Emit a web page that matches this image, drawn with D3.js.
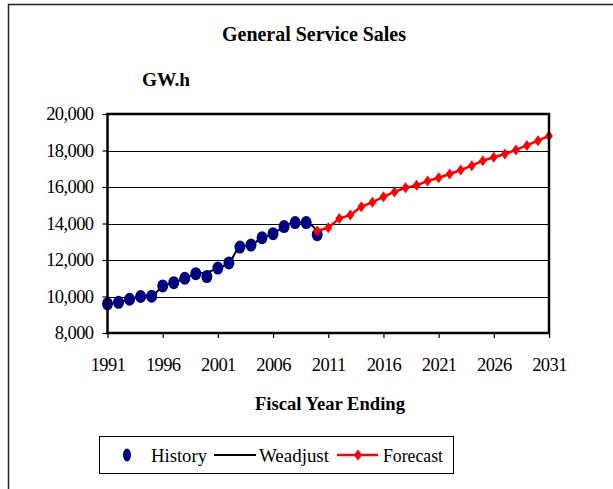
<!DOCTYPE html>
<html>
<head>
<meta charset="utf-8">
<script src="https://cdn.jsdelivr.net/npm/d3@7"></script>
<style>
    body { margin: 0; background: #fff; }
    svg { display: block; font-family: "Liberation Serif", "Times New Roman", serif; }
</style>
</head>
<body>
<div id="chart-container"></div>
<script>
// values (GW.h)
const historyYears = [1991, 1992, 1993, 1994, 1995, 1996, 1997, 1998, 1999, 2000,
    2001, 2002, 2003, 2004, 2005, 2006, 2007, 2008, 2009, 2010];
const historyValues = [9600, 9680, 9850, 10000, 10020, 10580, 10760, 11000, 11250, 11090,
    11560, 11840, 12710, 12820, 13220, 13440, 13830, 14050, 14050, 13390];
const weadjustValues = [9600, 9680, 9850, 10000, 10020, 10580, 10760, 11000, 11250, 11330,
    11560, 11840, 12710, 12820, 13220, 13440, 13830, 14050, 14050, 13590];
const forecastYears = [2010, 2011, 2012, 2013, 2014, 2015, 2016, 2017, 2018, 2019, 2020,
    2021, 2022, 2023, 2024, 2025, 2026, 2027, 2028, 2029, 2030, 2031];
const forecastValues = [13590, 13770, 14270, 14470, 14920, 15160, 15470, 15730, 15960, 16090, 16330,
    16510, 16710, 16930, 17170, 17440, 17630, 17810, 18030, 18280, 18540, 18800];
const yTicks = [8000, 10000, 12000, 14000, 16000, 18000, 20000];
const xTicks = [1991, 1996, 2001, 2006, 2011, 2016, 2021, 2026, 2031];

document.addEventListener("DOMContentLoaded", function () {
    const width = 613, height = 489;
    const plot = { left: 107.5, right: 549, top: 114, bottom: 333 };

    const svg = d3.select("#chart-container")
        .append("svg")
        .attr("width", width)
        .attr("height", height);

    svg.append("rect").attr("width", width).attr("height", height).attr("fill", "#fff");

    // outer chart frame (runs off the right and bottom edge)
    svg.append("rect")
        .attr("x", 8.5).attr("y", 4.5)
        .attr("width", 700).attr("height", 600)
        .attr("fill", "none")
        .attr("stroke", "#222")
        .attr("stroke-width", 1.5);

    const x = d3.scaleLinear().domain([1991, 2031]).range([plot.left, plot.right]);
    const y = d3.scaleLinear().domain([8000, 20000]).range([plot.bottom, plot.top]);

    // grid
    svg.append("g")
        .selectAll("line")
        .data(yTicks.slice(1, -1))
        .enter()
        .append("line")
        .attr("x1", plot.left).attr("x2", plot.right)
        .attr("y1", d => Math.round(y(d)) + 0.5).attr("y2", d => Math.round(y(d)) + 0.5)
        .attr("stroke", "#000")
        .attr("stroke-width", 1);

    // axes
    const yAxis = svg.append("g")
        .attr("transform", `translate(${plot.left},0)`)
        .call(d3.axisLeft(y).tickValues(yTicks).tickFormat(d3.format(",")).tickSize(5).tickPadding(9));
    yAxis.select(".domain").remove();

    const xAxis = svg.append("g")
        .attr("transform", `translate(0,${plot.bottom})`)
        .call(d3.axisBottom(x).tickValues(xTicks).tickFormat(d3.format("d")).tickSize(5).tickPadding(20));
    xAxis.select(".domain").remove();

    svg.selectAll(".tick line").attr("stroke", "#000").attr("stroke-width", 1.2);
    svg.selectAll(".tick text")
        .attr("fill", "#000")
        .style("font-family", "'Liberation Serif', serif")
        .style("font-size", "18.5px")
        .style("letter-spacing", "-0.6px");

    // weather adjusted line
    const weadjust = historyYears.map((yr, i) => ({ year: yr, value: weadjustValues[i] }));
    const line = d3.line().x(d => x(d.year)).y(d => y(d.value)).curve(d3.curveMonotoneX);
    svg.append("path")
        .datum(weadjust)
        .attr("d", line)
        .attr("fill", "none")
        .attr("stroke", "#000")
        .attr("stroke-width", 2);

    // history points
    const history = historyYears.map((yr, i) => ({ year: yr, value: historyValues[i] }));
    svg.append("g")
        .selectAll("ellipse")
        .data(history)
        .enter()
        .append("ellipse")
        .attr("cx", d => x(d.year))
        .attr("cy", d => y(d.value))
        .attr("rx", 5.5)
        .attr("ry", 6.5)
        .attr("fill", "#000080");

    // forecast
    const forecast = forecastYears.map((yr, i) => ({ year: yr, value: forecastValues[i] }));
    svg.append("path")
        .datum(forecast)
        .attr("d", d3.line().x(d => x(d.year)).y(d => y(d.value)))
        .attr("fill", "none")
        .attr("stroke", "#ff0000")
        .attr("stroke-width", 2.5);

    const diamond = "M0,-5.5L4,0L0,5.5L-4,0Z";
    svg.append("g")
        .selectAll("path")
        .data(forecast)
        .enter()
        .append("path")
        .attr("transform", d => `translate(${x(d.year)},${y(d.value)})`)
        .attr("d", diamond)
        .attr("fill", "#ff0000");

    // plot border
    svg.append("rect")
        .attr("x", plot.left).attr("y", plot.top)
        .attr("width", plot.right - plot.left)
        .attr("height", plot.bottom - plot.top)
        .attr("fill", "none")
        .attr("stroke", "#000")
        .attr("stroke-width", 2.5);

    // titles
    svg.append("text")
        .attr("x", 314).attr("y", 41)
        .attr("text-anchor", "middle")
        .attr("font-weight", "bold")
        .attr("font-size", 20.5)
        .attr("textLength", 184)
        .attr("lengthAdjust", "spacingAndGlyphs")
        .text("General Service Sales");

    svg.append("text")
        .attr("x", 142).attr("y", 86)
        .attr("font-weight", "bold")
        .attr("font-size", 18.5)
        .attr("textLength", 48)
        .attr("lengthAdjust", "spacingAndGlyphs")
        .text("GW.h");

    svg.append("text")
        .attr("x", 330).attr("y", 410)
        .attr("text-anchor", "middle")
        .attr("font-weight", "bold")
        .attr("font-size", 18.5)
        .attr("textLength", 150)
        .attr("lengthAdjust", "spacingAndGlyphs")
        .text("Fiscal Year Ending");

    // legend
    const legend = svg.append("g");
    legend.append("rect")
        .attr("x", 99.5).attr("y", 436.5)
        .attr("width", 354).attr("height", 37)
        .attr("fill", "#fff")
        .attr("stroke", "#000")
        .attr("stroke-width", 1);

    legend.append("ellipse")
        .attr("cx", 127).attr("cy", 455)
        .attr("rx", 4).attr("ry", 6.5)
        .attr("fill", "#000080");
    legend.append("line")
        .attr("x1", 214).attr("x2", 256).attr("y1", 455).attr("y2", 455)
        .attr("stroke", "#000").attr("stroke-width", 2);
    legend.append("line")
        .attr("x1", 337).attr("x2", 378).attr("y1", 455).attr("y2", 455)
        .attr("stroke", "#ff0000").attr("stroke-width", 2.5);
    legend.append("path")
        .attr("transform", "translate(358,455)")
        .attr("d", diamond)
        .attr("fill", "#ff0000");

    const labels = [
        { text: "History", x: 151, w: 56 },
        { text: "Weadjust", x: 259, w: 70 },
        { text: "Forecast", x: 383, w: 60 }
    ];
    legend.selectAll("text.lbl")
        .data(labels)
        .enter()
        .append("text")
        .attr("class", "lbl")
        .attr("x", d => d.x)
        .attr("y", 462)
        .attr("font-size", 19)
        .attr("textLength", d => d.w)
        .attr("lengthAdjust", "spacingAndGlyphs")
        .text(d => d.text);
});
</script>
</body>
</html>
